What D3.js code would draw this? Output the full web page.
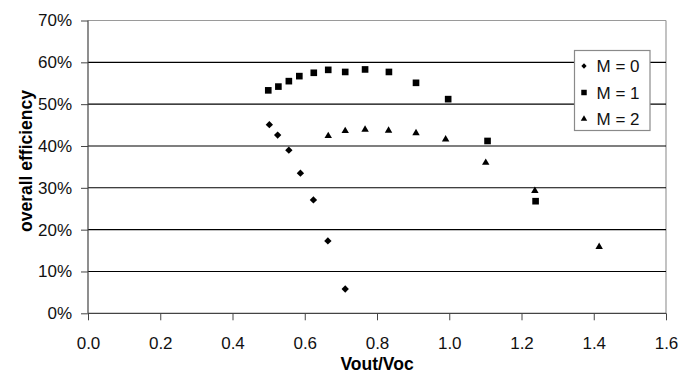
<!DOCTYPE html>
<html>
<head>
<meta charset="utf-8">
<script src="https://cdn.jsdelivr.net/npm/d3@7"></script>
<style>
  html, body { margin: 0; padding: 0; background: #fff; }
  svg { display: block; font-family: "Liberation Sans", Arial, sans-serif; }
</style>
</head>
<body>
<svg id="chart" width="682" height="373"></svg>
<script>
// ---- data ----
const xTicks = [0.0, 0.2, 0.4, 0.6, 0.8, 1.0, 1.2, 1.4, 1.6];
const yTicks = [0, 0.1, 0.2, 0.3, 0.4, 0.5, 0.6, 0.7];
const seriesNames = ["M = 0", "M = 1", "M = 2"];

const m0x = [0.502, 0.525, 0.556, 0.588, 0.624, 0.664, 0.712];
const m0y = [0.451, 0.426, 0.390, 0.335, 0.271, 0.173, 0.058];

const m1x = [0.499, 0.527, 0.556, 0.585, 0.625, 0.665, 0.712, 0.767, 0.833, 0.908, 0.997, 1.106, 1.239];
const m1y = [0.533, 0.542, 0.555, 0.567, 0.575, 0.582, 0.577, 0.583, 0.577, 0.551, 0.512, 0.412, 0.268];

const m2x = [0.665, 0.712, 0.767, 0.832, 0.908, 0.990, 1.101, 1.237, 1.415];
const m2y = [0.424, 0.436, 0.439, 0.437, 0.431, 0.416, 0.360, 0.293, 0.159];

// ---- layout ----
const svg = d3.select("#chart");
const pLeft = 88, pRight = 666, pTop = 20.5, pBottom = 313.3;

const x = d3.scaleLinear().domain([0, 1.6]).range([pLeft, pRight]);
const y = d3.scaleLinear().domain([0, 0.7]).range([pBottom, pTop]);

// plot border (top & right gray)
svg.append("line").attr("x1", pLeft).attr("x2", pRight).attr("y1", pTop).attr("y2", pTop)
  .attr("stroke", "#9a9a9a").attr("stroke-width", 1.2);
svg.append("line").attr("x1", pRight).attr("x2", pRight).attr("y1", pTop).attr("y2", pBottom)
  .attr("stroke", "#9a9a9a").attr("stroke-width", 1.2);

// gridlines
svg.append("g").selectAll("line")
  .data(yTicks.filter(d => d > 0 && d < 0.7))
  .join("line")
  .attr("x1", pLeft).attr("x2", pRight)
  .attr("y1", d => y(d)).attr("y2", d => y(d))
  .attr("stroke", "#000").attr("stroke-width", 1.1);

// axes
const yAxis = d3.axisLeft(y).tickValues(yTicks).tickFormat(d3.format(".0%"))
  .tickSize(7).tickPadding(9);
const gy = svg.append("g").attr("transform", `translate(${pLeft},0)`).call(yAxis);

const xAxis = d3.axisBottom(x).tickValues(xTicks).tickFormat(d3.format(".1f"))
  .tickSize(7).tickPadding(17);
const gx = svg.append("g").attr("transform", `translate(0,${pBottom})`).call(xAxis);

[gy, gx].forEach(g => {
  g.select(".domain").attr("stroke", "#444").attr("stroke-width", 1.2);
  g.selectAll(".tick line").attr("stroke", "#444").attr("stroke-width", 1);
  g.selectAll(".tick text").attr("fill", "#111")
    .style("font-family", '"Liberation Sans", Arial, sans-serif')
    .style("font-size", "17px");
});
gx.select(".domain").attr("d", `M${pLeft},0H${pRight}`);
gy.select(".domain").attr("d", `M0,${pTop}V${pBottom}`);

// axis titles
svg.append("text")
  .attr("x", (pLeft + pRight) / 2).attr("y", 369.5)
  .attr("text-anchor", "middle")
  .style("font-size", "17.5px").style("font-weight", "bold").attr("fill", "#000")
  .text("Vout/Voc");

svg.append("text")
  .attr("transform", "translate(32,161) rotate(-90)")
  .attr("text-anchor", "middle")
  .style("font-size", "17.5px").style("font-weight", "bold").attr("fill", "#000")
  .text("overall efficiency");

// markers
const diamond = d3.symbol().type(d3.symbolSquare).size(27);
const square = d3.symbol().type(d3.symbolSquare).size(44);
const triangle = d3.symbol().type(d3.symbolTriangle).size(24);

const series = [
  { xs: m0x, ys: m0y, sym: diamond, rot: 45 },
  { xs: m1x, ys: m1y, sym: square, rot: 0 },
  { xs: m2x, ys: m2y, sym: triangle, rot: 0 }
];

series.forEach(s => {
  svg.append("g").selectAll("path")
    .data(s.xs.map((v, i) => [v, s.ys[i]]))
    .join("path")
    .attr("d", s.sym())
    .attr("transform", d => `translate(${x(d[0])},${y(d[1])}) rotate(${s.rot})`)
    .attr("fill", "#000");
});

// legend
const lg = svg.append("g");
lg.append("rect").attr("x", 574.5).attr("y", 50.5).attr("width", 75.5).attr("height", 80)
  .attr("fill", "#fff").attr("stroke", "#8a8a8a").attr("stroke-width", 1.2);
const legendSyms = [
  d3.symbol().type(d3.symbolSquare).size(14),
  d3.symbol().type(d3.symbolSquare).size(30),
  d3.symbol().type(d3.symbolTriangle).size(18)
];
const legendRot = [45, 0, 0];
const legendY = [66, 92.5, 119];
seriesNames.forEach((name, i) => {
  lg.append("path").attr("d", legendSyms[i]())
    .attr("transform", `translate(584,${legendY[i]}) rotate(${legendRot[i]})`)
    .attr("fill", "#000");
  lg.append("text").attr("x", 596.5).attr("y", legendY[i]).attr("dy", "0.36em")
    .style("font-size", "17px").attr("fill", "#111")
    .text(name);
});
</script>
</body>
</html>
